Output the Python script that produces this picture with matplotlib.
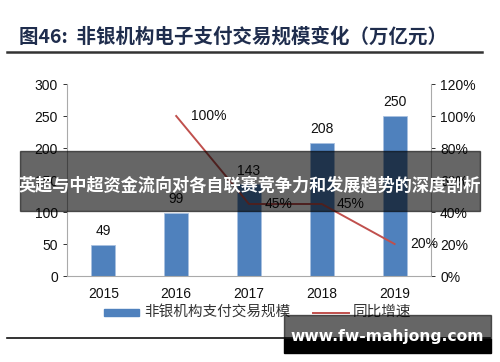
import matplotlib
matplotlib.use("Agg")
import matplotlib.pyplot as plt
from matplotlib.patches import Rectangle
from matplotlib.lines import Line2D

plt.rcParams['font.family'] = ['Liberation Sans', 'Noto Sans CJK SC', 'DejaVu Sans']

years = ["2015", "2016", "2017", "2018", "2019"]
scale = [49, 99, 143, 208, 250]
growth_years = ["2016", "2017", "2018", "2019"]
growth = [100, 45, 45, 20]
left_ticks = [0, 50, 100, 150, 200, 250, 300]
right_ticks = [0, 20, 40, 60, 80, 100, 120]

title = "图46:  非银机构电子支付交易规模变化（万亿元）"
banner = "英超与中超资金流向对各自联赛竞争力和发展趋势的深度剖析"
watermark = "www.fw-mahjong.com"
legend_bar = "非银机构支付交易规模"
legend_line = "同比增速"

W, H = 500, 362
fig = plt.figure(figsize=(W / 100, H / 100), dpi=100)

def fx(px):
    return px / W

def fy(py):
    return 1 - py / H

ax = fig.add_axes([fx(67), fy(276), fx(431) - fx(67), fy(84) - fy(276)])
xpos = list(range(len(years)))
bar_color = "#4f81bd"
ax.bar(xpos, scale, width=0.33, color=bar_color, edgecolor="#a9c1e0", linewidth=0.6, zorder=2)
ax.set_xlim(-0.5, len(years) - 0.5)
ax.set_ylim(0, 300)
ax.set_yticks(left_ticks)
ax.set_xticks(xpos)
ax.set_xticklabels(years)
for i, v in enumerate(scale):
    ax.annotate(str(v), (i, v), xytext=(0, 5), textcoords="offset points",
                ha="center", va="bottom", fontsize=10, color="#111111")

ax.tick_params(axis="x", length=0, labelsize=10, pad=8, colors="#111111")
ax.tick_params(axis="y", length=3, labelsize=10, colors="#111111", width=0.6)
for sp in ["top", "right"]:
    ax.spines[sp].set_visible(False)
ax.spines["left"].set_color("#aaaaaa")
ax.spines["bottom"].set_color("#aaaaaa")
for t in ax.get_yticklines():
    t.set_color("#aaaaaa")

ax2 = ax.twinx()
ax2.set_ylim(0, 120)
ax2.set_yticks(right_ticks)
ax2.set_yticklabels([f"{t}%" for t in right_ticks])
gx = [years.index(y) for y in growth_years]
line_color = "#c0504d"
ax2.plot(gx, growth, color=line_color, linewidth=1.4, zorder=3)
for x, v in zip(gx, growth):
    ax2.annotate(f"{v}%", (x, v), xytext=(11, 0), textcoords="offset points",
                 ha="left", va="center", fontsize=10, color="#111111")
ax2.tick_params(axis="y", length=3, labelsize=10, colors="#111111", width=0.6)
for sp in ["top", "left", "bottom"]:
    ax2.spines[sp].set_visible(False)
ax2.spines["right"].set_color("#aaaaaa")
for t in ax2.get_yticklines():
    t.set_color("#aaaaaa")

# title and rules
fig.text(fx(19), fy(37), title, fontsize=14, fontweight="bold", color="#1f2d4d",
         ha="left", va="center", family=['Noto Sans CJK SC', 'DejaVu Sans'])
fig.add_artist(Line2D([fx(7), fx(482)], [fy(52), fy(52)], color="#333333", linewidth=1.8))
fig.add_artist(Line2D([fx(7), fx(490)], [fy(338), fy(338)], color="#111111", linewidth=1.2))

# legend
fig.add_artist(Rectangle((fx(104), fy(316)), fx(35), fy(309) - fy(316), color=bar_color))
fig.text(fx(144), fy(312), legend_bar, fontsize=10.5, color="#333333", ha="left", va="center",
         family=['Noto Sans CJK SC', 'DejaVu Sans'])
fig.add_artist(Line2D([fx(313), fx(349)], [fy(313), fy(313)], color=line_color, linewidth=1.4))
fig.text(fx(353), fy(312), legend_line, fontsize=10.5, color="#333333", ha="left", va="center",
         family=['Noto Sans CJK SC', 'DejaVu Sans'])

# overlay banner
fig.add_artist(Rectangle((fx(20), fy(211)), fx(460), fy(151) - fy(211), color="black", alpha=0.6, zorder=10))
fig.text(fx(250), fy(185), banner, fontsize=12.3, fontweight="bold", color="white",
         ha="center", va="center", zorder=11, family=['Noto Sans CJK SC', 'DejaVu Sans'])

# watermark box
fig.add_artist(Rectangle((fx(284), fy(339)), fx(207), fy(315) - fy(339), color="black", alpha=0.6, zorder=10))
fig.add_artist(Rectangle((fx(284), fy(353)), fx(207), fy(339) - fy(353), color="black", zorder=10))
fig.text(fx(387), fy(337), watermark, fontsize=11.2, fontweight="bold", color="white",
         ha="center", va="center", zorder=11, family=['DejaVu Sans'])

fig.savefig("out.png", dpi=100)
